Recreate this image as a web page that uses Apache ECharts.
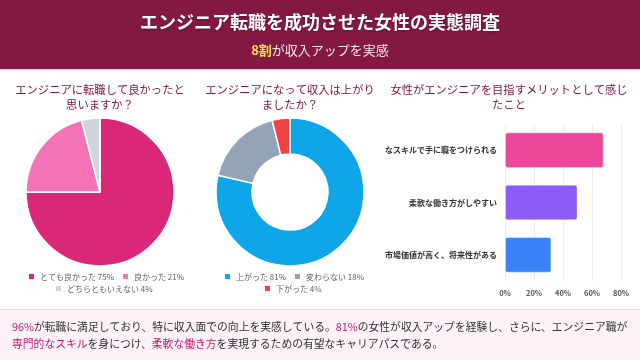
<!DOCTYPE html>
<html><head><meta charset="utf-8">
<script src="https://cdn.jsdelivr.net/npm/echarts@6/dist/echarts.min.js"></script>
<style>html,body{margin:0;padding:0;background:#fff}#c{width:640px;height:360px}</style>
</head><body><div id="c"></div>
<script>
const mainTitle = 'エンジニア転職を成功させた女性の実態調査';
const subHighlight = '8割';
const subRest = 'が収入アップを実感';

const pie1Title = ['エンジニアに転職して良かったと', '思いますか？'];
const pie1Names = ['とても良かった', '良かった', 'どちらともいえない'];
const pie1Values = [75, 21, 4];
const pie1Colors = ['#db2777', '#f472b6', '#d1d5db'];

const pie2Title = ['エンジニアになって収入は上がり', 'ましたか？'];
const pie2Names = ['上がった', '変わらない', '下がった'];
const pie2Values = [81, 18, 4];
const pie2Colors = ['#0ea5e9', '#94a3b8', '#ef4444'];

const barTitle = ['女性がエンジニアを目指すメリットとして感じ', 'たこと'];
const barCategories = ['なスキルで手に職をつけられる', '柔軟な働き方がしやすい', '市場価値が高く、将来性がある'];
const barValues = [68, 50, 32];
const barColors = ['#ec4899', '#8b5cf6', '#3b82f6'];
const barTicks = [0, 20, 40, 60, 80];

const footerLine1 = [['h','96%'],['n','が転職に満足しており、特に収入面での向上を実感している。'],['h','81%'],['n','の女性が収入アップを経験し、さらに、エンジニア職が']];
const footerLine2 = [['h','専門的なスキル'],['n','を身につけ、'],['h','柔軟な働き方'],['n','を実現するための有望なキャリアパスである。']];

const FONT = '"Noto Sans CJK JP", "Noto Sans", sans-serif';
const chart = echarts.init(document.getElementById('c'), null, {renderer: 'canvas'});

function lookup(names, values) {
  return function (name) { const i = names.indexOf(name); return name + ' ' + values[i] + '%'; };
}
function richLine(parts) { return parts.map(p => '{' + p[0] + '|' + p[1] + '}').join(''); }
function titleGraphic(lines, cx) {
  return lines.map((t, i) => ({
    type: 'text', x: cx, y: 90 + i * 15,
    style: {text: t, textAlign: 'center', textVerticalAlign: 'middle', fill: '#831843', font: '11.3px ' + FONT}
  }));
}
const legendBase = {
  orient: 'horizontal', itemWidth: 7, itemHeight: 7, itemGap: 7, padding: 0, icon: 'rect',
  textStyle: {fontSize: 8, color: '#5f5f5f', fontFamily: FONT}, selectedMode: false
};

const footerRich = {
  n: {fontSize: 10.8, fill: '#333', color: '#333', fontFamily: FONT},
  h: {fontSize: 10.8, fill: '#c0196a', color: '#c0196a', fontFamily: FONT}
};

const option = {
  animation: false,
  textStyle: {fontFamily: FONT},
  graphic: [
    {type: 'rect', shape: {x: 0, y: 0, width: 640, height: 69}, style: {fill: '#831843'}},
    {type: 'rect', shape: {x: 0, y: 69, width: 640, height: 1}, style: {fill: '#e6d3da'}},
    {type: 'text', x: 320, y: 22, style: {text: mainTitle, textAlign: 'center', textVerticalAlign: 'middle', fill: '#fff', font: 'bold 18px ' + FONT, textShadowColor: 'rgba(0,0,0,0.3)', textShadowBlur: 2, textShadowOffsetY: 1}},
    {type: 'text', x: 320, y: 50, style: {text: '{y|' + subHighlight + '}{w|' + subRest + '}', textAlign: 'center', textVerticalAlign: 'middle',
      rich: {y: {fill: '#fde047', fontWeight: 'bold', fontSize: 13, fontFamily: FONT, color: '#fde047'}, w: {fontSize: 13, color: '#fbe7ef', fill: '#fbe7ef', fontFamily: FONT}}}},
    ...titleGraphic(pie1Title, 100),
    ...titleGraphic(pie2Title, 290),
    ...titleGraphic(barTitle, 509),
    {type: 'rect', shape: {x: 0, y: 310, width: 640, height: 50}, style: {fill: '#fdf2f8'}},
    {type: 'rect', shape: {x: 0, y: 309, width: 640, height: 1}, style: {fill: '#fbcfe8'}},
    {type: 'text', x: 12, y: 327, style: {text: richLine(footerLine1), textVerticalAlign: 'middle', rich: footerRich}},
    {type: 'text', x: 12, y: 344, style: {text: richLine(footerLine2), textVerticalAlign: 'middle', rich: footerRich}}
  ],
  legend: [
    Object.assign({}, legendBase, {left: 27, top: 272, data: pie1Names.slice(0, 2), formatter: lookup(pie1Names, pie1Values)}),
    Object.assign({}, legendBase, {left: 54, top: 284, data: pie1Names.slice(2), formatter: lookup(pie1Names, pie1Values)}),
    Object.assign({}, legendBase, {left: 223, top: 272, data: pie2Names.slice(0, 2), formatter: lookup(pie2Names, pie2Values)}),
    Object.assign({}, legendBase, {left: 263, top: 284, data: pie2Names.slice(2), formatter: lookup(pie2Names, pie2Values)})
  ],
  grid: {left: 505, right: 19, top: 124, bottom: 79},
  xAxis: {
    type: 'value', min: 0, max: 80, interval: 20,
    axisLabel: {formatter: v => v + '%', fontSize: 7.5, fontWeight: 'bold', color: '#555', margin: 8},
    splitLine: {lineStyle: {color: '#ececec'}},
    axisLine: {show: false}, axisTick: {show: false}
  },
  yAxis: {
    type: 'category', inverse: true, data: barCategories,
    axisLabel: {fontSize: 8, fontWeight: 'bold', color: '#333', margin: 8},
    axisLine: {show: false}, axisTick: {show: false}
  },
  series: [
    {
      type: 'pie', center: [100, 192], radius: 74, startAngle: 90, clockwise: true,
      label: {show: false}, labelLine: {show: false}, silent: true,
      itemStyle: {borderColor: '#fff', borderWidth: 1.5},
      data: pie1Names.map((n, i) => ({name: n, value: pie1Values[i], itemStyle: {color: pie1Colors[i]}}))
    },
    {
      type: 'pie', center: [290, 192], radius: [38, 74], startAngle: 90, clockwise: true,
      label: {show: false}, labelLine: {show: false}, silent: true,
      itemStyle: {borderColor: '#fff', borderWidth: 1.5},
      data: pie2Names.map((n, i) => ({name: n, value: pie2Values[i], itemStyle: {color: pie2Colors[i]}}))
    },
    {
      type: 'bar', barCategoryGap: '32%',
      data: barValues.map((v, i) => ({value: v, itemStyle: {color: barColors[i], borderColor: 'rgba(255,255,255,0.35)', borderWidth: 1, borderRadius: 2}}))
    }
  ]
};
chart.setOption(option);
</script>
</body></html>
